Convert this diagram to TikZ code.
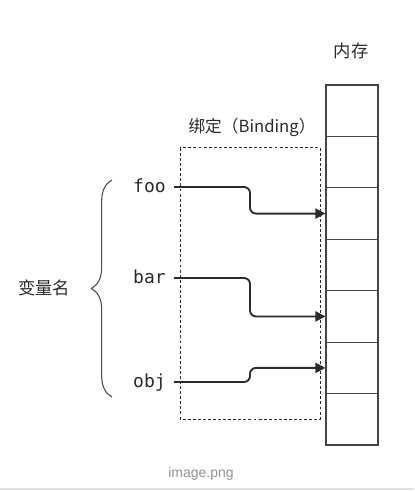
\documentclass[tikz,border=0pt]{standalone}
\usepackage{fontspec}
\setmainfont{Liberation Sans}
\newfontfamily\cjk{Noto Sans CJK SC}
\newfontfamily\monofam{DejaVu Sans Mono}
\usetikzlibrary{arrows.meta,decorations.pathreplacing}
\definecolor{ink}{HTML}{2B2B2B}
\definecolor{cellline}{HTML}{444444}
\tikzset{
  cell/.style={draw=cellline, line width=0.8pt, minimum width=39pt, minimum height=38.57pt, inner sep=0pt},
  varname/.style={anchor=east, inner xsep=6pt, inner ysep=0pt, text height=0.8em, text depth=0pt, text=ink, font=\monofam\fontsize{13.5pt}{15pt}\selectfont},
  cjklabel/.style={text=ink, inner sep=0pt, font=\cjk\fontsize{13pt}{15pt}\selectfont},
  conn/.style={draw=ink, line width=1.4pt, rounded corners=4.5pt, -{Triangle[length=7.5pt,width=7.5pt]}},
  bindbox/.style={draw=ink, line width=0.75pt, dash pattern=on 2.2pt off 1.6pt},
  bracestyle/.style={draw=ink!85, line width=0.8pt, decorate, decoration={brace, amplitude=15.5pt}},
}
\begin{document}
\begin{tikzpicture}[x=0.75pt,y=-0.75pt]
\useasboundingbox (0,0) rectangle (414,491);
% memory column
\foreach \i in {1,...,7} {
  \node[cell] (m\i) at (352, {85+51.43*(\i-0.5)}) {};
}
\node[cjklabel] (memlabel) at (351,51) {内存};
% binding box
\draw[bindbox] (180,148) rectangle (320,419);
\node[cjklabel, font=\cjk\fontsize{12.5pt}{15pt}\selectfont] (bindlabel) at (252,127) {绑定（Binding）};
% variable names
\node[varname] (foo) at (174,187) {foo};
\node[varname] (bar) at (174,278) {bar};
\node[varname] (obj) at (174,382) {obj};
\coordinate (bx) at (250,0);
% connectors
\draw[conn] (foo.east) -| (bx |- m3.west) -- (m3.west);
\draw[conn] (bar.east) -| (bx |- m5.west) -- (m5.west);
\draw[conn] (obj.east) -| (bx |- m6.west) -- (m6.west);
% brace and label
\coordinate (bbot) at (112,397);
\coordinate (btop) at (112,180);
\draw[bracestyle] (bbot) -- (btop);
\node[cjklabel] (varlabel) at (44,288) {变量名};
% caption
\node[text=gray!85, inner sep=0pt, font=\fontsize{10.5pt}{12pt}\selectfont] (caption) at (201,474) {image.png};
\draw[gray!25, line width=0.8pt] (0,489) -- (414,489);
\end{tikzpicture}
\end{document}
